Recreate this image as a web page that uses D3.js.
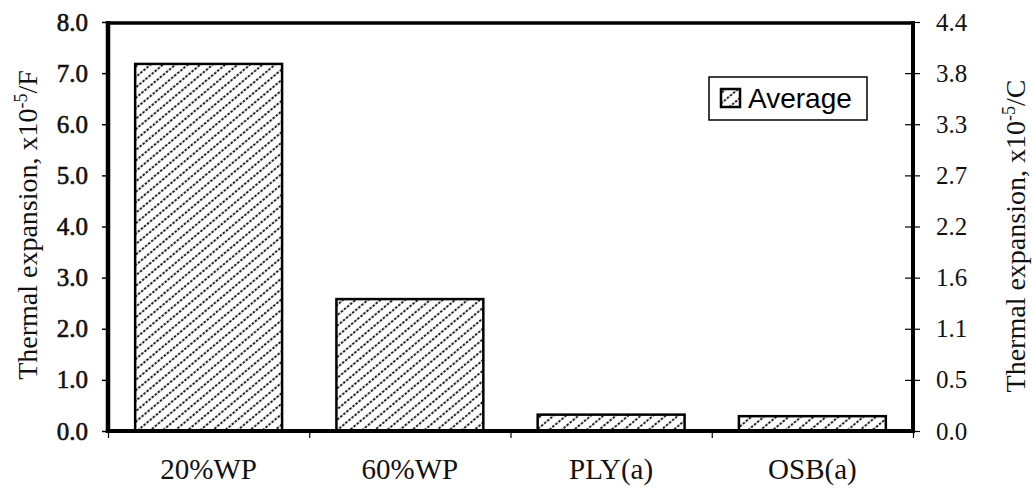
<!DOCTYPE html>
<html>
<head>
  <meta charset="utf-8">
  <title>Thermal expansion</title>
  <script src="https://d3js.org/d3.v7.min.js"></script>
  <style>
    body { margin: 0; background: #fff; }
    .tick text { font-family: "Liberation Serif", serif; }
  </style>
</head>
<body>
  <script>
    // data
    const categories = ['20%WP', '60%WP', 'PLY(a)', 'OSB(a)'];
    const averages = [7.18, 2.58, 0.32, 0.29];
    const leftTicks = [0, 1, 2, 3, 4, 5, 6, 7, 8];
    const rightLabels = ['0.0', '0.5', '1.1', '1.6', '2.2', '2.7', '3.3', '3.8', '4.4'];

    const width = 1032, height = 493;
    const margin = {top: 22, right: 119, bottom: 62, left: 108};
    const innerW = width - margin.left - margin.right;
    const innerH = height - margin.top - margin.bottom;

    const svg = d3.select('body').append('svg')
      .attr('width', width)
      .attr('height', height);

    // hatch fill
    const defs = svg.append('defs');
    const pat = defs.append('pattern')
      .attr('id', 'hatch')
      .attr('patternUnits', 'userSpaceOnUse')
      .attr('width', 8).attr('height', 8)
      .attr('patternTransform', 'rotate(-40)');
    pat.append('rect').attr('width', 8).attr('height', 8).attr('fill', '#fff');
    pat.append('line')
      .attr('x1', 0).attr('y1', 4).attr('x2', 8).attr('y2', 4)
      .attr('stroke', '#222').attr('stroke-width', 1.8)
      .attr('stroke-dasharray', '2.5 1.5');

    const g = svg.append('g')
      .attr('transform', `translate(${margin.left},${margin.top})`);

    const x = d3.scaleBand().domain(categories).range([0, innerW]).paddingInner(0.27).paddingOuter(0.135);
    const y = d3.scaleLinear().domain([0, 8]).range([innerH, 0]);

    // bars
    g.selectAll('.bar')
      .data(categories)
      .enter().append('rect')
      .attr('class', 'bar')
      .attr('x', d => x(d))
      .attr('width', x.bandwidth())
      .attr('y', (d, i) => y(averages[i]))
      .attr('height', (d, i) => y(0) - y(averages[i]))
      .attr('fill', 'url(#hatch)')
      .attr('stroke', '#000')
      .attr('stroke-width', 2.5);

    // left axis
    const yAxis = g.append('g')
      .call(d3.axisLeft(y).tickValues(leftTicks).tickFormat(d3.format('.1f')).tickSize(6).tickPadding(14));
    yAxis.select('.domain').remove();
    yAxis.selectAll('.tick text').attr('font-size', 25).attr('fill', '#111')
      .attr('stroke', '#111').attr('stroke-width', 0.6);
    yAxis.selectAll('.tick line').attr('stroke-width', 1.5);

    // right axis
    const rAxis = g.append('g')
      .attr('transform', `translate(${innerW},0)`)
      .call(d3.axisRight(y).tickValues(leftTicks).tickFormat((d, i) => rightLabels[i]).tickSize(7).tickPadding(16));
    rAxis.select('.domain').remove();
    rAxis.selectAll('.tick text').attr('font-size', 25).attr('fill', '#111');
    rAxis.selectAll('.tick line').attr('x1', -8).attr('stroke-width', 1.2);

    // bottom axis ticks between categories
    const xb = d3.scaleLinear().domain([0, 4]).range([0, innerW]);
    const xAxis = g.append('g')
      .attr('transform', `translate(0,${innerH})`)
      .call(d3.axisBottom(xb).tickValues([0, 1, 2, 3, 4]).tickFormat('').tickSize(7));
    xAxis.select('.domain').remove();
    xAxis.selectAll('.tick line').attr('stroke-width', 1.2);

    // category labels
    g.selectAll('.cat')
      .data(categories)
      .enter().append('text')
      .attr('class', 'cat')
      .attr('x', d => x(d) + x.bandwidth() / 2)
      .attr('y', innerH + 48)
      .attr('text-anchor', 'middle')
      .attr('font-family', '"Liberation Serif", serif')
      .attr('font-size', 29)
      .attr('fill', '#111')
      .text(d => d);

    // frame
    g.append('line').attr('x1', 0).attr('x2', innerW).attr('y1', 1).attr('y2', 1)
      .attr('stroke', '#000').attr('stroke-width', 3.5);
    g.append('line').attr('x1', 0).attr('x2', innerW).attr('y1', innerH).attr('y2', innerH)
      .attr('stroke', '#000').attr('stroke-width', 4);
    g.append('line').attr('x1', 0).attr('x2', 0).attr('y1', -1).attr('y2', innerH + 2)
      .attr('stroke', '#000').attr('stroke-width', 4.5);
    g.append('line').attr('x1', innerW).attr('x2', innerW).attr('y1', -1).attr('y2', innerH + 2)
      .attr('stroke', '#000').attr('stroke-width', 4);

    // axis titles
    function title(xPos, yPos, unit) {
      const t = svg.append('text')
        .attr('transform', `translate(${xPos},${yPos}) rotate(-90)`)
        .attr('text-anchor', 'middle')
        .attr('font-family', '"Liberation Serif", serif')
        .attr('font-size', 28)
        .attr('fill', '#111');
      t.append('tspan').text('Thermal expansion, x10');
      t.append('tspan').attr('font-size', 18).attr('dy', -10).text('-5');
      t.append('tspan').attr('dy', 10).text('/' + unit);
    }
    title(37, 225, 'F');
    title(1025, 236, 'C');

    // legend
    const leg = svg.append('g').attr('transform', 'translate(709,77)');
    leg.append('rect').attr('width', 158).attr('height', 43)
      .attr('fill', '#fff').attr('stroke', '#000').attr('stroke-width', 1.5);
    leg.append('rect').attr('x', 12).attr('y', 12).attr('width', 19).attr('height', 18)
      .attr('fill', 'url(#hatch)').attr('stroke', '#000').attr('stroke-width', 2.5);
    leg.append('text').attr('x', 39).attr('y', 31)
      .attr('font-family', '"Liberation Sans", Arial, sans-serif')
      .attr('font-size', 28)
      .attr('fill', '#000')
      .text('Average');
  </script>
</body>
</html>
